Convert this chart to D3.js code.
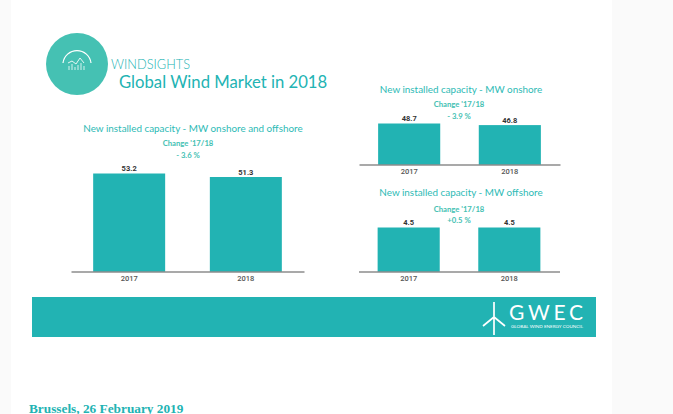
<!DOCTYPE html>
<html>
<head>
<meta charset="utf-8">
<script src="https://cdn.jsdelivr.net/npm/d3@7"></script>
<style>
  html, body { margin: 0; padding: 0; background: #fafafa; overflow: hidden; }
  text { font-family: Lato, "Open Sans", sans-serif; }
</style>
</head>
<body>
<svg id="slide" width="673" height="414"></svg>
<script>
// Values
var years = ["2017", "2018"];
var totalValues = [53.2, 51.3];
var onshoreValues = [48.7, 46.8];
var offshoreValues = [4.5, 4.5];

var totalTitle = "New installed capacity - MW onshore and offshore";
var onshoreTitle = "New installed capacity - MW onshore";
var offshoreTitle = "New installed capacity - MW offshore";
var changeLabel = "Change '17/18";
var totalChange = "- 3.6 %";
var onshoreChange = "- 3.9 %";
var offshoreChange = "+0.5 %";

var teal = "#22b3b3";
var lightTeal = "#45c1b3";

var svg = d3.select("#slide");

// White page on the grey background
svg.append("rect")
  .attr("x", 11).attr("y", 0)
  .attr("width", 601).attr("height", 414)
  .attr("fill", "#fff");

// Logo circle with its little chart icon
var logo = svg.append("g").attr("transform", "translate(77,64)");
logo.append("circle").attr("r", 31).attr("fill", lightTeal);
logo.append("path")
  .attr("d", "M-14,-1 A14.1,14.1 0 0 1 14,-1")
  .attr("fill", "none").attr("stroke", "#fff").attr("stroke-width", 1.2);
logo.append("path")
  .attr("d", "M-9,-1 L-5,-3 L-1,0 L3,-6 L7,-1")
  .attr("fill", "none").attr("stroke", "#e6f7f4").attr("stroke-width", 1);
logo.append("path")
  .attr("d", "M-8,6V2 M-5,6V0 M-2,6V3 M1,6V1 M4,6V-1 M7,6V2")
  .attr("stroke", "#d5f2ee").attr("stroke-width", 1);

svg.append("text")
  .attr("x", 111).attr("y", 69)
  .attr("font-size", 13.5).attr("font-weight", 300).attr("fill", teal)
  .attr("textLength", 79).attr("lengthAdjust", "spacingAndGlyphs")
  .text("WINDSIGHTS");
svg.append("text")
  .attr("x", 119).attr("y", 88)
  .attr("font-size", 16.7).attr("fill", teal)
  .text("Global Wind Market in 2018");

// One bar panel: title, change note, bars, value labels, axis
function barPanel(cfg) {
  var x = d3.scaleBand()
    .domain(years)
    .range([cfg.left, cfg.right])
    .paddingInner(0.383)
    .paddingOuter(0.19);

  var y = d3.scaleLinear()
    .domain([0, d3.max(cfg.values)])
    .range([cfg.base, cfg.top]);

  svg.append("text")
    .attr("x", cfg.titleX).attr("y", cfg.titleY)
    .attr("text-anchor", "middle")
    .attr("font-size", 9.9).attr("fill", "#2dbab5")
    .text(cfg.title);
  svg.append("text")
    .attr("x", cfg.changeX).attr("y", cfg.changeY)
    .attr("text-anchor", "middle")
    .attr("font-size", 7.7).attr("font-weight", 700).attr("fill", lightTeal)
    .text(changeLabel);
  svg.append("text")
    .attr("x", cfg.changeX).attr("y", cfg.changeY + 11.5)
    .attr("text-anchor", "middle")
    .attr("font-size", 7.7).attr("font-weight", 700).attr("fill", lightTeal)
    .text(cfg.change);

  var g = svg.append("g");

  g.selectAll("rect")
    .data(cfg.values)
    .enter().append("rect")
    .attr("x", function(d, i) { return x(years[i]); })
    .attr("y", function(d) { return y(d); })
    .attr("width", x.bandwidth())
    .attr("height", function(d) { return cfg.base - y(d); })
    .attr("fill", teal);

  g.selectAll(".value")
    .data(cfg.values)
    .enter().append("text")
    .attr("class", "value")
    .attr("x", function(d, i) { return x(years[i]) + x.bandwidth() / 2; })
    .attr("y", function(d) { return y(d) - 2.5; })
    .attr("text-anchor", "middle")
    .style("font-family", "Roboto, sans-serif")
    .attr("font-size", 7.5).attr("font-weight", 700).attr("fill", "#333")
    .text(function(d) { return d.toFixed(1); });

  var axis = svg.append("g")
    .attr("transform", "translate(0," + cfg.base + ")")
    .call(d3.axisBottom(x).tickSize(0).tickPadding(4));
  axis.select(".domain").attr("stroke", "#555").attr("stroke-width", 1.2);
  axis.selectAll("text")
    .style("font-family", "Roboto, sans-serif")
    .attr("font-size", 7.5).attr("font-weight", 500).attr("fill", "#555");
}

barPanel({ values: totalValues, title: totalTitle, change: totalChange,
  left: 71, right: 304, top: 173.5, base: 271.5,
  titleX: 193, titleY: 131.5, changeX: 188, changeY: 146 });
barPanel({ values: onshoreValues, title: onshoreTitle, change: onshoreChange,
  left: 359, right: 560, top: 123.5, base: 164.5,
  titleX: 461, titleY: 92.5, changeX: 459, changeY: 107 });
barPanel({ values: offshoreValues, title: offshoreTitle, change: offshoreChange,
  left: 358.5, right: 559.5, top: 227.5, base: 271.5,
  titleX: 461, titleY: 196, changeX: 459, changeY: 211.5 });

// Footer band with the GWEC mark
svg.append("rect")
  .attr("x", 32).attr("y", 297)
  .attr("width", 564).attr("height", 40)
  .attr("fill", teal);

svg.append("path")
  .attr("d", "M494,302V335 M494,317L483,326 M494,317L505,326")
  .attr("fill", "none").attr("stroke", "#fff").attr("stroke-width", 1.7);
svg.append("text")
  .attr("x", 509).attr("y", 320)
  .attr("font-size", 21).attr("textLength", 74)
  .attr("lengthAdjust", "spacing")
  .attr("fill", "#fff")
  .text("GWEC");
svg.append("text")
  .attr("x", 511).attr("y", 328)
  .attr("font-size", 4.6).attr("textLength", 72)
  .attr("fill", "#fff")
  .text("GLOBAL WIND ENERGY COUNCIL");

svg.append("text")
  .attr("x", 29).attr("y", 413)
  .style("font-family", "'Liberation Serif', serif")
  .attr("font-size", 13.3).attr("font-weight", 700).attr("fill", teal)
  .text("Brussels, 26 February 2019");
</script>
</body>
</html>
